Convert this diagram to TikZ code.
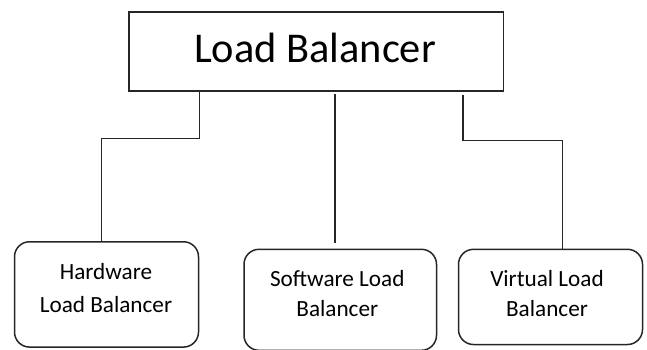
\documentclass[tikz,border=0pt]{standalone}
\usepackage{fontspec}
\setmainfont{Carlito}
\begin{document}
\begin{tikzpicture}[x=1pt,y=-1pt,
  line width=1.5pt,
  headbox/.style={draw=black!85, rectangle, inner sep=0pt,
    minimum width=374.3pt, minimum height=79pt},
  leafbox/.style={draw=black!85, rectangle, rounded corners=15pt, inner sep=0pt},
  leaftext/.style={align=center, inner sep=0pt},
  wire/.style={draw=black!85, line width=1.4pt}]
\useasboundingbox (0,0) rectangle (647,349);

% top level
\node[headbox] (top) at (316.2,51.5) {};
\node[inner sep=0pt, font=\fontsize{42.4}{50}\selectfont] (toptext) at (315,48) {Load Balancer};

% three kinds
\node[leafbox, minimum width=184pt, minimum height=105.3pt] (hw) at (106.5,294.4) {};
\node[leafbox, minimum width=192.5pt, minimum height=101pt] (sw) at (340.25,299.8) {};
\node[leafbox, minimum width=184pt, minimum height=95.2pt] (vl) at (550.5,296.9) {};

\node[leaftext, font=\fontsize{23.2}{32.7}\selectfont] (hwtext) at (106,288.3) {Hardware\\Load Balancer};
\node[leaftext, font=\fontsize{23.2}{30}\selectfont] (swtext) at (337.3,293.6) {Software Load\\Balancer};
\node[leaftext, font=\fontsize{23.2}{30}\selectfont] (vltext) at (547,293.6) {Virtual Load\\Balancer};

% connector bends
\coordinate (lj) at (199.3,138.3);
\coordinate (lk) at (101.3,138.3);
\coordinate (ma) at (335,94);
\coordinate (mb) at (335,242.7);
\coordinate (ra) at (463,95);
\coordinate (rj) at (463,140.3);
\coordinate (rk) at (562.3,140.3);

\draw[wire] (top.south -| lj) -- (lj) -- (lk) -- (hw.north -| lk);
\draw[wire] (ma) -- (mb);
\draw[wire] (ra) -- (rj) -- (rk) -- (vl.north -| rk);
\end{tikzpicture}
\end{document}
